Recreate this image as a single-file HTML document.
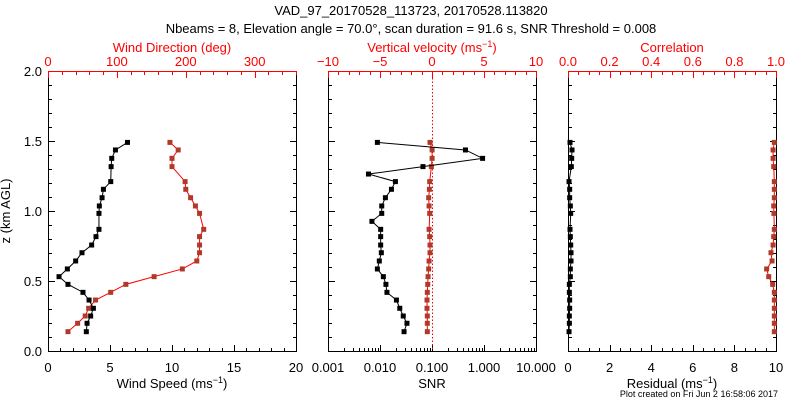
<!DOCTYPE html>
<html><head><meta charset="utf-8"><style>
body{margin:0;background:#fff}
svg{display:block;font-family:"Liberation Sans",sans-serif}
</style></head><body>
<svg id="c" width="800" height="400" xmlns="http://www.w3.org/2000/svg">
<rect width="800" height="400" fill="#fff"/>
<text x="411" y="15" font-size="13" text-anchor="middle">VAD_97_20170528_113723, 20170528.113820</text>
<text x="411" y="33" font-size="13" text-anchor="middle">Nbeams = 8, Elevation angle = 70.0°, scan duration = 91.6 s, SNR Threshold = 0.008</text>
<text x="10" y="211" font-size="13" text-anchor="middle" transform="rotate(-90 10 211)">z (km AGL)</text>
<text x="172" y="388" font-size="13" text-anchor="middle">Wind Speed (ms<tspan dy="-5" font-size="9">−1</tspan><tspan dy="5">)</tspan></text>
<text x="172" y="52" font-size="13" fill="#f00" text-anchor="middle">Wind Direction (deg)</text>
<text x="432" y="388" font-size="13" text-anchor="middle">SNR</text>
<text x="432" y="52" font-size="13" fill="#f00" text-anchor="middle">Vertical velocity (ms<tspan dy="-5" font-size="9">−1</tspan><tspan dy="5">)</tspan></text>
<text x="672" y="388" font-size="13" text-anchor="middle">Residual (ms<tspan dy="-5" font-size="9">−1</tspan><tspan dy="5">)</tspan></text>
<text x="672" y="52" font-size="13" fill="#f00" text-anchor="middle">Correlation</text>
<text x="778" y="397" font-size="9" text-anchor="end">Plot created on Fri Jun  2 16:58:06 2017</text>
</svg>
<script>
const zWind=[0.138,0.198,0.250,0.305,0.364,0.419,0.476,0.531,0.586,0.643,0.702,0.757,0.817,0.869,0.983,1.036,1.095,1.155,1.210,1.317,1.376,1.436,1.490];
const windSpeed=[3.09,3.15,3.44,3.66,3.31,2.82,1.61,0.89,1.56,2.23,2.74,3.52,3.87,4.11,4.11,4.14,4.36,4.47,5.06,5.09,5.14,5.44,6.41];
const windDir=[29,43,54,59,69,91,113,154,195,216,220,220,220,226,220,214,207,200,199,180,180,189,177];
const zSnr=[0.138,0.198,0.250,0.305,0.364,0.419,0.476,0.531,0.586,0.643,0.702,0.757,0.817,0.869,0.926,0.983,1.036,1.095,1.155,1.210,1.264,1.317,1.376,1.436,1.490];
const snr=[0.029,0.033,0.028,0.024,0.0207,0.0136,0.013,0.0116,0.0089,0.0097,0.0106,0.0103,0.0103,0.0103,0.0070,0.0108,0.0108,0.0127,0.0166,0.0198,0.0060,0.067,0.94,0.44,0.0089];
const vertVel=[-0.45,-0.45,-0.45,-0.48,-0.48,-0.45,-0.41,-0.38,-0.32,-0.28,-0.19,-0.19,-0.22,-0.28,-0.22,-0.28,-0.32,-0.25,-0.22,-0.06,0.01,0.01,-0.19];
const residual=[0.05,0.065,0.065,0.08,0.08,0.065,0.065,0.113,0.113,0.145,0.145,0.13,0.113,0.097,0.13,0.113,0.08,0.08,0.05,0.16,0.177,0.193,0.097];
const correlation=[0.992,0.992,0.992,0.992,0.992,0.992,0.984,0.965,0.955,0.981,0.976,0.986,0.989,0.992,0.990,0.989,0.992,0.992,0.992,0.989,0.986,0.986,0.992];
const windTicks=["0","5","10","15","20"], dirTicks=["0","100","200","300"], snrTicks=["0.001","0.010","0.100","1.000","10.000"];
const velTicks=["−10","−5","0","5","10"], resTicks=["0","2","4","6","8","10"], corTicks=["0.0","0.2","0.4","0.6","0.8","1.0"];
const zTicks=["0.0","0.5","1.0","1.5","2.0"];

const svg=document.getElementById('c'), NS='http://www.w3.org/2000/svg';
const T=71,B=351;
const yS=z=>B-(z/2)*(B-T);
function mk(tag,at){const e=document.createElementNS(NS,tag);for(const k in at)e.setAttribute(k,at[k]);svg.appendChild(e);return e;}
function lin(a,b,lo,hi){return v=>a+(v-lo)/(hi-lo)*(b-a);}
function line(x1,y1,x2,y2,c,dash){const l=mk('line',{x1,y1,x2,y2,stroke:c,'stroke-width':1});if(dash)l.setAttribute('stroke-dasharray',dash);return l;}
function txt(x,y,s,c,anchor){const t=mk('text',{x,y,'font-size':13,fill:c,'text-anchor':anchor||'middle'});t.textContent=s;return t;}

function panel(L,R,name){
  const r=mk('rect',{x:L+.5,y:T+.5,width:R-L,height:B-T,fill:'none',stroke:'#000'});
  
  
  for(let i=0;i<=20;i++){const y=yS(i*0.1)+.5,len=i%5==0?7:4;line(L,y,L+len,y,'#000');line(R+1,y,R+1-len,y,'#000');}
}
function series(xs,zs,xf,lineC,mC,name){
  const pts=xs.map((v,i)=>[xf(v),yS(zs[i])]);
  const p=mk('polyline',{points:pts.map(q=>q.join(',')).join(' '),fill:'none',stroke:lineC,'stroke-width':1});
  
  
  pts.forEach(q=>{const m=mk('rect',{x:q[0]-2.5,y:q[1]-2.5,width:5,height:5,fill:mC});
    
    });
}
function botLin(L,R,lo,hi,major,minor,labels){
  const f=lin(L,R,lo,hi);
  for(let v=lo;v<=hi+1e-9;v+=minor){const x=Math.round(f(v))+.5;const mj=Math.abs(v/major-Math.round(v/major))<1e-6;line(x,B+1,x,B+1-(mj?7:4),'#000');}
  labels.forEach((s,i)=>txt(f(lo+i*major),372,s,'#000'));
}
function topLin(L,R,lo,hi,major,minor,labels){
  const f=lin(L,R,lo,hi);
  line(L,T,R+1,T,'#f00').setAttribute('y1',T+.5);
  svg.lastChild.setAttribute('y2',T+.5);
  for(let v=lo;v<=hi+1e-9;v+=minor){const x=Math.round(f(v))+.5;const mj=Math.abs(v/major-Math.round(v/major))<1e-6;line(x,T,x,T+(mj?7:4),'#f00');}
  labels.forEach((s,i)=>txt(f(lo+i*major),66,s,'#f00'));
}
// Panel 1
const L1=48,R1=296;
panel(L1,R1,'wind-panel');
zTicks.forEach((s,i)=>txt(42,yS(i*0.5)+5,s,'#000','end'));
botLin(L1,R1,0,20,5,1,windTicks);
topLin(L1,R1,0,360,100,20,dirTicks);
series(windDir,zWind,lin(L1,R1,0,360),'#f00','#b03a2a','wind-direction');
series(windSpeed,zWind,lin(L1,R1,0,20),'#000','#000','wind-speed');
// Panel 2
const L2=328,R2=536;
panel(L2,R2,'snr-panel');
const lf=v=>L2+(Math.log10(v)+3)/4*(R2-L2);
for(let d=-3;d<1;d++)for(let k=1;k<10;k++){const x=Math.round(lf(k*Math.pow(10,d)))+.5;line(x,B+1,x,B+1-(k==1?7:4),'#000');}
line(R2+.5,B+1,R2+.5,B-6,'#000');
snrTicks.forEach((s,i)=>txt(L2+i*(R2-L2)/4,372,s,'#000'));
topLin(L2,R2,-10,10,5,1,velTicks);
const vf=lin(L2,R2,-10,10);
const zl=line(Math.round(vf(0))+.5,T,Math.round(vf(0))+.5,B,'#f00','1.5,2');


series(vertVel,zWind,vf,'#f00','#b03a2a','vertical-velocity');
series(snr,zSnr,lf,'#000','#000','snr');
// Panel 3
const L3=568,R3=776;
panel(L3,R3,'residual-panel');
botLin(L3,R3,0,10,2,0.5,resTicks);
topLin(L3,R3,0,1,0.2,0.05,corTicks);
series(correlation,zWind,lin(L3,R3,0,1),'#f00','#b03a2a','correlation');
series(residual,zWind,lin(L3,R3,0,10),'#000','#000','residual');
</script>
</body></html>
